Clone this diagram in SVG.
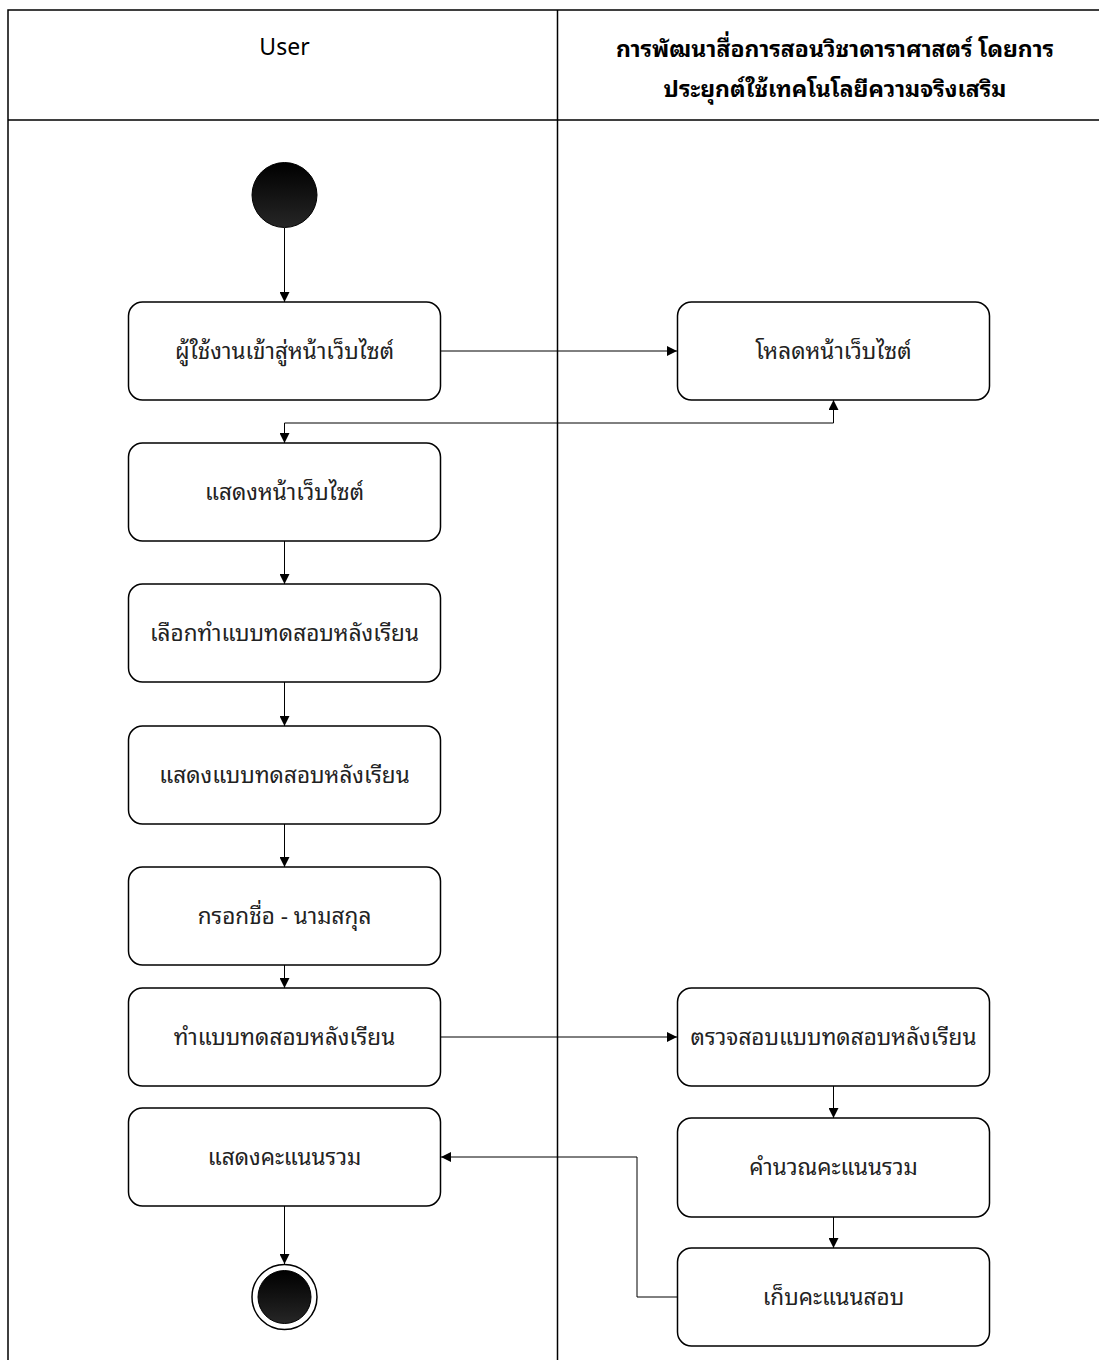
<svg xmlns="http://www.w3.org/2000/svg" width="1099" height="1360" viewBox="0 0 1099 1360">
<style>
.node rect{fill:#fff;stroke:#000;stroke-width:1.5}
.node text{font-family:"Noto Sans Thai Looped","Noto Sans Thai","Noto Sans","DejaVu Sans",sans-serif;font-size:22.5px;fill:#222;text-anchor:middle;dominant-baseline:central}
.hdr{font-family:"Noto Sans Thai Looped","Noto Sans Thai","Noto Sans","DejaVu Sans",sans-serif;font-size:23px;fill:#000;text-anchor:middle;dominant-baseline:central}
.lane{stroke:#000;stroke-width:1.5;fill:none}
.conn path{fill:none;stroke:#000;stroke-width:1}
</style>
<defs>
<marker id="arr" viewBox="0 0 10 10" refX="10" refY="5" markerWidth="10" markerHeight="10" markerUnits="userSpaceOnUse" orient="auto-start-reverse">
<path d="M0,0 L10,5 L0,10 z" fill="#000"/>
</marker>
<linearGradient id="dark" x1="0" y1="0" x2="0" y2="1">
<stop offset="0" stop-color="#000"/>
<stop offset="1" stop-color="#262626"/>
</linearGradient>
</defs>
<rect x="0" y="0" width="1099" height="1360" fill="#fff"/>
<g id="swimlanes">
<path class="lane" d="M8 1360 V10 H1099 M8 120 H1099 M557.5 10 V1360"/>
<text class="hdr" x="284.5" y="44">User</text>
<text class="hdr" x="835" y="46" font-weight="bold">การพัฒนาสื่อการสอนวิชาดาราศาสตร์ โดยการ</text>
<text class="hdr" x="835" y="86" font-weight="bold">ประยุกต์ใช้เทคโนโลยีความจริงเสริม</text>
</g>
<g class="conn" id="connectors">
<path d="M284.5 228 V302" marker-end="url(#arr)"/>
<path d="M441 351 H677" marker-end="url(#arr)"/>
<path d="M833.5 400 V423 H284.5 V443" marker-start="url(#arr)" marker-end="url(#arr)"/>
<path d="M284.5 541 V584" marker-end="url(#arr)"/>
<path d="M284.5 682 V726" marker-end="url(#arr)"/>
<path d="M284.5 824 V867" marker-end="url(#arr)"/>
<path d="M284.5 965 V988" marker-end="url(#arr)"/>
<path d="M441 1037 H677" marker-end="url(#arr)"/>
<path d="M833.5 1086 V1118" marker-end="url(#arr)"/>
<path d="M833.5 1217 V1248" marker-end="url(#arr)"/>
<path d="M677 1297 H637 V1157 H441" marker-end="url(#arr)"/>
<path d="M284.5 1206 V1264" marker-end="url(#arr)"/>
</g>
<g id="start"><circle cx="284.5" cy="195" r="32.5" fill="url(#dark)" stroke="#000" stroke-width="1"/></g>
<g id="n1" class="node"><rect x="128.5" y="302" width="312" height="98" rx="14"/><text x="284.5" y="349">ผู้ใช้งานเข้าสู่หน้าเว็บไซต์</text></g>
<g id="n2" class="node"><rect x="128.5" y="443" width="312" height="98" rx="14"/><text x="284.5" y="490">แสดงหน้าเว็บไซต์</text></g>
<g id="n3" class="node"><rect x="128.5" y="584" width="312" height="98" rx="14"/><text x="284.5" y="631">เลือกทำแบบทดสอบหลังเรียน</text></g>
<g id="n4" class="node"><rect x="128.5" y="726" width="312" height="98" rx="14"/><text x="284.5" y="773">แสดงแบบทดสอบหลังเรียน</text></g>
<g id="n5" class="node"><rect x="128.5" y="867" width="312" height="98" rx="14"/><text x="284.5" y="914">กรอกชื่อ - นามสกุล</text></g>
<g id="n6" class="node"><rect x="128.5" y="988" width="312" height="98" rx="14"/><text x="284.5" y="1035">ทำแบบทดสอบหลังเรียน</text></g>
<g id="n7" class="node"><rect x="128.5" y="1108" width="312" height="98" rx="14"/><text x="284.5" y="1155">แสดงคะแนนรวม</text></g>
<g id="r1" class="node"><rect x="677.5" y="302" width="312" height="98" rx="14"/><text x="833.5" y="349">โหลดหน้าเว็บไซต์</text></g>
<g id="r2" class="node"><rect x="677.5" y="988" width="312" height="98" rx="14"/><text x="833.5" y="1035">ตรวจสอบแบบทดสอบหลังเรียน</text></g>
<g id="r3" class="node"><rect x="677.5" y="1118" width="312" height="99" rx="14"/><text x="833.5" y="1165">คำนวณคะแนนรวม</text></g>
<g id="r4" class="node"><rect x="677.5" y="1248" width="312" height="98" rx="14"/><text x="833.5" y="1295">เก็บคะแนนสอบ</text></g>
<g id="end"><circle cx="284.5" cy="1297" r="32.5" fill="#fff" stroke="#000" stroke-width="1.5"/><circle cx="284.5" cy="1297" r="26.5" fill="url(#dark)" stroke="#000" stroke-width="1"/></g>
</svg>
